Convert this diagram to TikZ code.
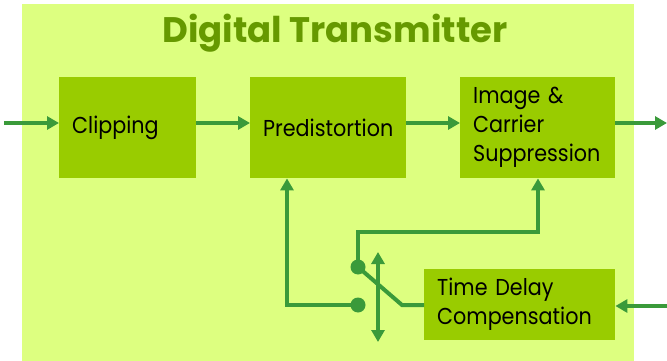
\documentclass[tikz,border=0pt]{standalone}
\usepackage{fontspec}
\setmainfont{Poppins}
\newfontfamily\bodyfont{Poppins}[FakeStretch=0.9]
\newfontfamily\titlefont{Poppins}
\usetikzlibrary{arrows.meta}
\definecolor{panel}{HTML}{DDFF80}
\definecolor{boxfill}{HTML}{99CC00}
\definecolor{wire}{HTML}{3A9A3A}
\definecolor{titlecol}{HTML}{669900}
\tikzset{
  box/.style={fill=boxfill, inner ysep=0pt, inner xsep=13pt, align=left,
    minimum height=#1, font=\bodyfont\fontsize{23}{29}\selectfont, text=black, anchor=north west},
  wirel/.style={draw=wire, line width=4pt},
  arr/.style={wirel, -{Triangle[length=12pt,width=13pt]}},
  dbl/.style={wirel, {Triangle[length=12pt,width=13pt]}-{Triangle[length=12pt,width=13pt]}},
  dot/.style={circle, fill=wire, minimum size=15pt, inner sep=0pt},
}
\begin{document}
\begin{tikzpicture}[x=1pt,y=-1pt]
\useasboundingbox (0,0) rectangle (667,361);
\fill[panel] (22,4) rectangle (634,361);
\node[anchor=base, text=titlecol, font=\titlefont\bfseries\fontsize{35.5}{38}\selectfont] (title) at (335,43) {Digital Transmitter};
\node[box=101pt, text width=111pt] (clip) at (59,77) {Clipping};
\node[box=101pt, text width=130pt] (pred) at (250,77) {Predistortion};
\node[box=101pt, text width=129pt] (imag) at (460,77) {Image \&\\Carrier\\Suppression};
\node[box=71pt, text width=165pt] (tdc) at (424,269) {Time Delay\\Compensation};
\coordinate (in) at (4,123);
\coordinate (out) at (667,123);
\coordinate (tdin) at (667,306);
\node[dot] (d1) at (358,305) {};
\node[dot] (d2) at (358,267) {};
\coordinate (k1) at (402,305);
\coordinate (v1) at (378,252);
\coordinate (v2) at (378,342);
\draw[arr] (in) -- (clip.west |- in);
\draw[arr] (clip.east |- in) -- (pred.west |- in);
\draw[arr] (pred.east |- in) -- (imag.west |- in);
\draw[arr] (imag.east |- in) -- (out);
\draw[arr] (tdin) -- (tdc.east |- tdin);
\draw[arr] (d1.center) -- (287,305) -- (pred.south -| 287,0);
\draw[arr] (d2.center) -- (358,232) -- (538,232) -- (imag.south -| 538,0);
\draw[wirel] (d2.center) -- (k1) -- (tdc.west |- k1);
\draw[dbl] (v1) -- (v2);
\end{tikzpicture}
\end{document}
